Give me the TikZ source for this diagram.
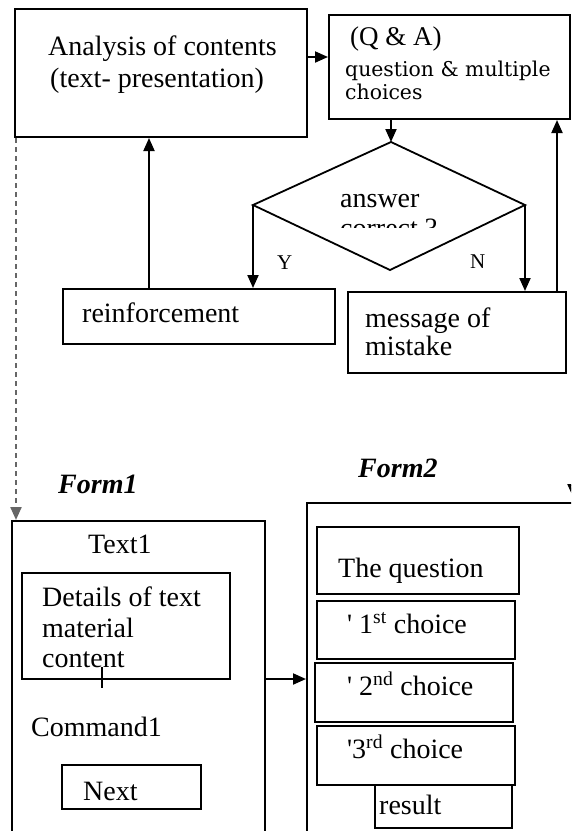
\documentclass[tikz,border=0pt]{standalone}
\usepackage{fontspec}
\setmainfont{Liberation Serif}
\newfontfamily\djs{DejaVu Serif}
\usetikzlibrary{arrows.meta,fit}
\begin{document}
\begin{tikzpicture}[x=1pt,y=-1pt,
  box/.style={draw, line width=2pt, inner sep=0pt, fit={#1}},
  lbl/.style={anchor=base west, inner sep=0pt, font=\fontsize{28}{31}\selectfont},
  small/.style={lbl, font=\fontsize{21}{23}\selectfont},
  slab/.style={lbl, font=\djs\fontsize{20.4}{23}\selectfont},
  arr/.style={line width=2pt, -{Triangle[length=13pt,width=11pt]}},
  dsh/.style={line width=2.2pt, gray!80!black, dash pattern=on 5pt off 4pt, -{Triangle[length=13pt,width=11pt]}},
  ]
\useasboundingbox (0,0) rectangle (571,831);
\fill[white] (0,0) rectangle (571,831);
\clip (0,0) rectangle (571,831);

% boxes
\node[box={(15,9) (307,137)}] (A) {};
\node[box={(329,15) (570,119)}] (QA) {};
\node[box={(63,289) (335,344)}] (R) {};
\node[box={(348,292) (566,373)}] (M) {};
\node[box={(12,521) (265,880)}] (F1) {};
\node[box={(22,573) (230,679)}] (D) {};
\node[box={(62,765) (201,809)}] (NX) {};
\node[box={(307,503) (620,880)}] (F2) {};
\node[box={(317,527) (519,594)}] (Q) {};
\node[box={(317,601) (515,659)}] (C1) {};
\node[box={(315,663) (513,722)}] (C2) {};
\node[box={(317,726) (515,785)}] (C3) {};
\node[box={(375,785) (512,828)}] (RS) {};

% diamond
\coordinate (dT) at (391,142);
\coordinate (dR) at (525,205);
\coordinate (dB) at (390,270);
\coordinate (dL) at (253,205);
\draw[line width=1.8pt, line join=miter] (dT) -- (dR) -- (dB) -- (dL) -- cycle;

% helper coordinates
\coordinate (yAQ) at (0,57);
\coordinate (xRA) at (149,0);
\coordinate (xMQ) at (557,0);
\coordinate (yF) at (0,679);
\coordinate (xDs) at (16,0);

% texts
\node[lbl] (tA1) at (48,55) {Analysis of contents};
\node[lbl] (tA2) at (50,87) {(text- presentation)};
\node[lbl, font=\fontsize{27}{30}\selectfont] (tQ1) at (350,45) {(Q \& A)};
\node[slab] (tQ2) at (345,76) {question \& multiple};
\node[slab] (tQ3) at (345,99) {choices};
\node[lbl] (tD1) at (340,207) {answer};
\begin{scope}
\clip (300,150) rectangle (480,227);
\node[lbl] (tD2) at (340,237) {correct ?};
\end{scope}
\node[small] (tY) at (277,269) {Y};
\node[small] (tN) at (470,268) {N};
\node[lbl] (tR) at (82,322) {reinforcement};
\node[lbl] (tM1) at (365,327) {message of};
\node[lbl] (tM2) at (365,355) {mistake};
\node[lbl] (tF1) at (58,493) {\bfseries\itshape Form1};
\node[lbl] (tF2) at (358,477) {\bfseries\itshape Form2};
\node[lbl] (tT1) at (88,553) {Text1};
\node[lbl] (tDe1) at (42,606) {Details of text};
\node[lbl] (tDe2) at (42,637) {material};
\node[lbl] (tDe3) at (42,667) {content};
\node[lbl] (tC1) at (31,736) {Command1};
\node[lbl] (tNx) at (83,800) {Next};
\node[lbl] (tQu) at (338,577) {The question};
\node[lbl] (tc1) at (347,633) {\textquotesingle{} 1\textsuperscript{st} choice};
\node[lbl] (tc2) at (347,695) {\textquotesingle{} 2\textsuperscript{nd} choice};
\node[lbl] (tc3) at (347,758) {\textquotesingle3\textsuperscript{rd} choice};
\node[lbl] (tres) at (379,814) {result};

% connectors
\draw[arr] (A.east |- yAQ) -- (QA.west |- yAQ);
\draw[arr] (QA.south -| dT) -- (dT);
\draw[arr] (dL) -- (dL |- R.north);
\draw[arr] (dR) -- (dR |- M.north);
\draw[arr] (R.north -| xRA) -- (A.south -| xRA);
\draw[arr] (M.north -| xMQ) -- (QA.south -| xMQ);
\draw[dsh] (A.south -| xDs) -- (F1.north -| xDs);
\draw[arr] (F1.east |- yF) -- (F2.west |- yF);

% small marks
\coordinate (tk) at (102,667);
\draw[line width=1.2pt] (tk) -- ++(0,21);
\coordinate (cut) at (573,484);
\draw[arr] (cut) -- ++(0,13);
\end{tikzpicture}
\end{document}
